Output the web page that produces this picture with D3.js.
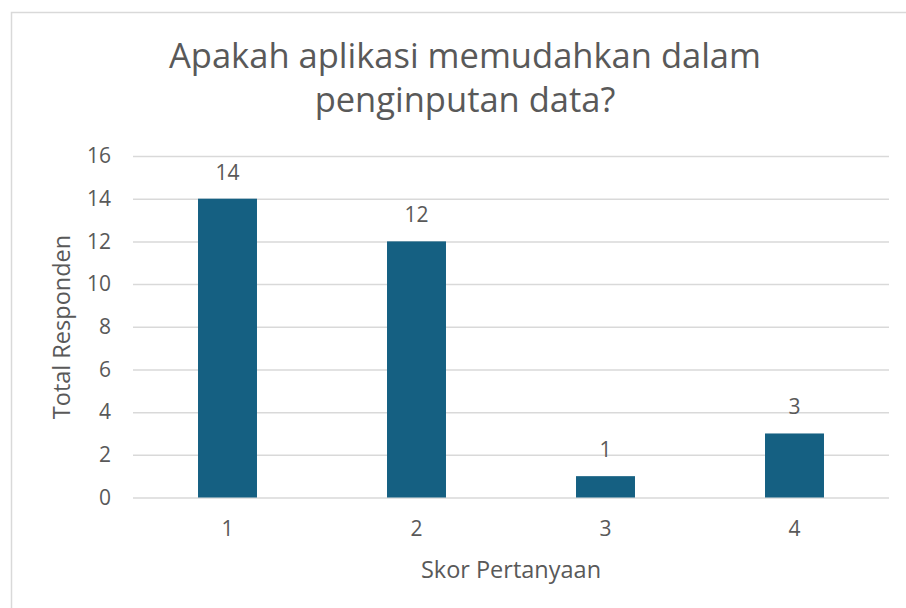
<!DOCTYPE html>
<html>
<head>
<meta charset="utf-8">
<script src="https://cdn.jsdelivr.net/npm/d3@7"></script>
<style>
  body { margin: 0; background: #fff; }
  svg text { font-family: "Open Sans", "Noto Sans", sans-serif; fill: #595959; }
</style>
</head>
<body>
<div class="chart"></div>
<script>
// data
let categories = ['1', '2', '3', '4'];
let values = [14, 12, 1, 3];
let yTicks = [0, 2, 4, 6, 8, 10, 12, 14, 16];
let titleLines = ['Apakah aplikasi memudahkan dalam', 'penginputan data?'];
let xTitle = 'Skor Pertanyaan';
let yTitle = 'Total Responden';

let width = 906, height = 608;
let plot = {left: 133, right: 889, top: 156, bottom: 497.5};

let svg = d3.select('.chart')
            .append('svg')
            .attr('width', width)
            .attr('height', height);

// chart frame (cut off at the right and bottom in the reference)
svg.append('rect')
   .attr('x', 11.5).attr('y', 12.5)
   .attr('width', 920).attr('height', 620)
   .attr('fill', 'none')
   .attr('stroke', '#d9d9d9')
   .attr('stroke-width', 1.5);

let x = d3.scaleBand()
          .domain(categories)
          .range([plot.left, plot.right])
          .paddingInner(0.688)
          .paddingOuter(0.344);

let y = d3.scaleLinear()
          .domain([0, 16])
          .range([plot.bottom, plot.top]);

// gridlines + y tick labels via axis
let yAxis = svg.append('g')
   .attr('transform', 'translate(' + plot.left + ',0)')
   .call(d3.axisLeft(y).tickValues(yTicks)
           .tickSize(-(plot.right - plot.left)).tickPadding(22));
yAxis.select('.domain').remove();
yAxis.selectAll('line').attr('stroke', '#d9d9d9').attr('stroke-width', 1.5);
yAxis.selectAll('text').attr('font-size', 21).attr('fill', '#595959')
     .style('font-family', '"Open Sans", sans-serif');

// x tick labels
let xAxis = svg.append('g')
   .attr('transform', 'translate(0,' + plot.bottom + ')')
   .call(d3.axisBottom(x).tickSize(0).tickPadding(24));
xAxis.select('.domain').remove();
xAxis.selectAll('text').attr('font-size', 21).attr('fill', '#595959')
     .style('font-family', '"Open Sans", sans-serif');

// bars
svg.selectAll('rect.bar')
   .data(values)
   .enter()
   .append('rect')
   .attr('class', 'bar')
   .attr('x', (d, i) => x(categories[i]))
   .attr('y', d => y(d))
   .attr('width', x.bandwidth())
   .attr('height', d => y(0) - y(d))
   .attr('fill', '#156082');

// data labels
svg.selectAll('text.lbl')
   .data(values)
   .enter()
   .append('text')
   .attr('class', 'lbl')
   .attr('x', (d, i) => x(categories[i]) + x.bandwidth()/2)
   .attr('y', d => y(d) - 19)
   .attr('text-anchor', 'middle')
   .attr('font-size', 21)
   .text(d => d);

// title
svg.selectAll('text.title')
   .data(titleLines)
   .enter()
   .append('text')
   .attr('class', 'title')
   .attr('x', 465)
   .attr('y', (d, i) => 68 + i * 44)
   .attr('text-anchor', 'middle')
   .attr('font-size', 34.5)
   .text(d => d);

// axis titles
svg.append('text')
   .attr('x', 511)
   .attr('y', 578)
   .attr('text-anchor', 'middle')
   .attr('font-size', 23.5)
   .text(xTitle);

svg.append('text')
   .attr('transform', 'translate(70,' + 327 + ') rotate(-90)')
   .attr('text-anchor', 'middle')
   .attr('font-size', 23.5)
   .text(yTitle);
</script>
</body>
</html>
